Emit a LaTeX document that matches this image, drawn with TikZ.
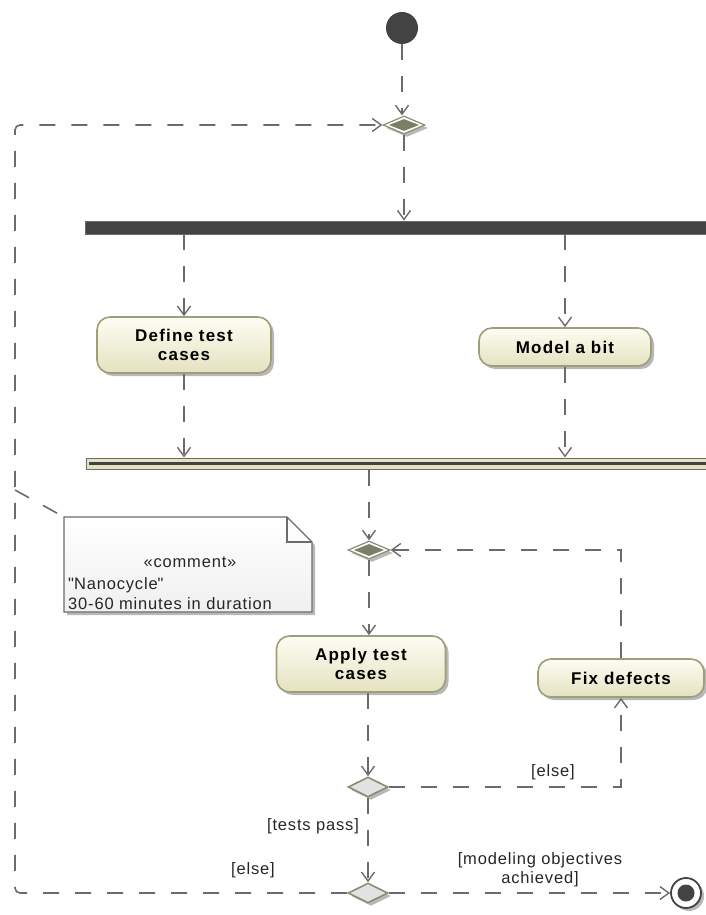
\documentclass[tikz,border=0pt]{standalone}
\usepackage{fontspec}
\setmainfont{Liberation Sans}
\newfontfamily\actfont[LetterSpace=7]{Liberation Sans}
\newfontfamily\labelfont[LetterSpace=5]{Liberation Sans}
\usetikzlibrary{arrows.meta,shapes.geometric,shadows,calc}

\definecolor{flowgrey}{HTML}{6B6B6B}
\definecolor{bardark}{HTML}{434343}
\definecolor{actborder}{HTML}{A09E78}
\definecolor{acttop}{HTML}{FDFDF3}
\definecolor{actbottom}{HTML}{E4E2C0}
\definecolor{mergefill}{HTML}{7C7F65}
\definecolor{decfill}{HTML}{E2E2E2}
\definecolor{decborder}{HTML}{8C8C74}
\definecolor{shadowgrey}{HTML}{B8B8B8}

\tikzset{
  flow/.style={draw=flowgrey, line width=1.6pt, dash pattern=on 16pt off 16pt,
    -{Straight Barb[length=9pt,width=13pt,line width=1.4pt]}},
  anchorline/.style={draw=flowgrey, line width=1.6pt, dash pattern=on 16pt off 16pt},
  softshadow/.style={drop shadow={shadow xshift=3pt, shadow yshift=-3pt, fill=shadowgrey, opacity=1}},
  action/.style={rectangle, rounded corners=13pt, draw=actborder, line width=1.6pt,
    top color=acttop, bottom color=actbottom, softshadow,
    font=\actfont\fontsize{17}{19}\selectfont\bfseries, align=center, inner sep=0pt},
  mergeout/.style={diamond, draw=decborder, line width=1.2pt, fill=white, inner sep=0pt,
    minimum width=42pt, minimum height=18pt, softshadow},
  mergein/.style={diamond, fill=mergefill, inner sep=0pt, minimum width=30pt, minimum height=12pt},
  decision/.style={diamond, draw=decborder, line width=1.6pt, fill=decfill, inner sep=0pt,
    minimum width=40pt, minimum height=20pt, softshadow},
  guard/.style={font=\labelfont\fontsize{16.5}{19}\selectfont, text=black!85, inner sep=0pt, align=center},
  notetext/.style={font=\labelfont\fontsize{16.5}{19}\selectfont, text=black!85, inner sep=0pt, align=left}
}

\begin{document}
\begin{tikzpicture}[x=1pt,y=-1pt]
\useasboundingbox (0,0) rectangle (705,915);

% initial and final nodes
\node[circle, fill=bardark, minimum size=32pt, inner sep=0pt] (init) at (402,28) {};
\node[circle, draw=bardark, line width=1.8pt, fill=white, minimum size=30pt, inner sep=0pt, softshadow] (final) at (686,893) {};
\node[circle, fill=bardark, minimum size=17pt, inner sep=0pt] (finaldot) at (686,893) {};

% merge at the start of each cycle
\node[mergeout] (merge1) at (404,125) {};
\node[mergein] (merge1in) at (404,125) {};

% fork bar
\node[rectangle, fill=bardark, draw=flowgrey, line width=0.8pt, minimum width=630pt,
      minimum height=13pt, inner sep=0pt, anchor=west] (fork) at (85,227.5) {};

% parallel actions
\node[action, minimum width=174pt, minimum height=56pt] (def) at (184,345) {Define test\\cases};
\node[action, minimum width=172pt, minimum height=38pt] (model) at (565,347) {Model a bit};

% join bar
\node[rectangle, fill=actbottom, draw=flowgrey, line width=1pt, minimum width=630pt,
      minimum height=11pt, inner sep=0pt, anchor=west] (join) at (86,463.5) {};
\node[rectangle, fill=bardark, minimum width=624pt, minimum height=3.5pt, inner sep=0pt,
      anchor=west] (joinline) at (89,463.5) {};

% test / fix loop
\node[mergeout] (merge2) at (369,550) {};
\node[mergein] (merge2in) at (369,550) {};
\node[action, minimum width=169pt, minimum height=56pt] (apply) at (361,664) {Apply test\\cases};
\node[action, minimum width=166pt, minimum height=38pt] (fix) at (621,678) {Fix defects};
\node[decision] (dec1) at (368,787) {};
\node[decision] (dec2) at (368,893) {};

% comment note
\coordinate (noteNW) at (64,517);
\path[softshadow, fill=white] (64,517) -- (287,517) -- (312,542) -- (312,612) -- (64,612) -- cycle;
\shade[top color=white, bottom color=black!6] (64,517) -- (287,517) -- (312,542) -- (312,612) -- (64,612) -- cycle;
\draw[flowgrey, line width=1.2pt, line join=miter] (64,517) -- (287,517) -- (312,542) -- (312,612) -- (64,612) -- cycle;
\draw[flowgrey, line width=1.2pt] (287,517) -- (287,542) -- (312,542);
\node[notetext, anchor=center] (stereo) at (190,562) {«comment»};
\node[notetext, anchor=west] (notel1) at (68,585) {\textquotedbl Nanocycle\textquotedbl};
\node[notetext, anchor=west] (notel2) at (68,604) {30-60 minutes in duration};

% loop corners
\coordinate (loopbend) at (15,500);
\coordinate (notepin) at (15,490);

% control flows
\draw[flow] (init) -- (init |- merge1.north);
\draw[flow] (merge1.south) -- (merge1.south |- fork.north);
\draw[flow] (def.north |- fork.south) -- (def.north);
\draw[flow] (model.north |- fork.south) -- (model.north);
\draw[flow] (def.south) -- (def.south |- join.north);
\draw[flow] (model.south) -- (model.south |- join.north);
\draw[flow] (merge2.north |- join.south) -- (merge2.north);
\draw[flow] (merge2.south) -- (merge2.south |- apply.north);
\draw[flow] (dec1.north |- apply.south) -- (dec1.north);
\draw[flow] (dec1.east) -| (fix.south);
\draw[flow] (fix.north) |- (merge2.east);
\draw[flow] (dec1.south) -- (dec2.north);
\draw[flow, rounded corners=5pt] (dec2.west) -| (loopbend) |- (merge1.west);
\draw[flow] (dec2.east) -- (final.west);
\draw[anchorline] (notepin) -- (noteNW);

% guards
\node[guard] (gelse1) at (553,772) {[else]};
\node[guard] (gpass) at (313,826) {[tests pass]};
\node[guard] (gelse2) at (253,870) {[else]};
\node[guard] (gdone) at (540,870) {[modeling objectives\\achieved]};
\end{tikzpicture}
\end{document}
